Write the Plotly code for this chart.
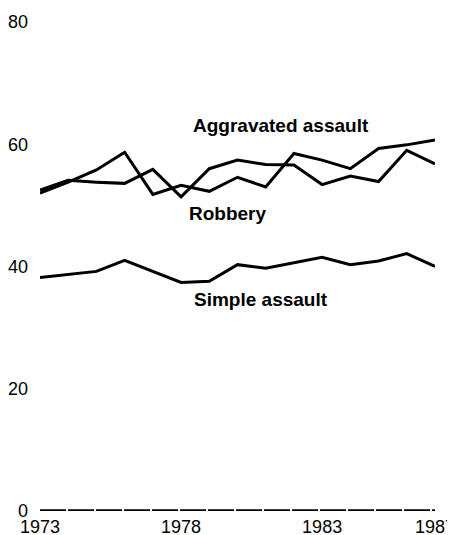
import plotly.graph_objects as go

years = list(range(1973, 1988))
aggravated_assault = [52.0, 53.8, 55.8, 58.7, 51.8, 53.3, 52.3, 54.6, 53.0, 58.5, 57.4, 56.0, 59.3, 59.9, 60.7]
robbery = [52.5, 54.1, 53.8, 53.6, 55.9, 51.4, 56.0, 57.4, 56.7, 56.6, 53.4, 54.8, 53.9, 59.0, 56.8]
simple_assault = [38.2, 38.7, 39.2, 41.0, 39.2, 37.4, 37.6, 40.3, 39.7, 40.6, 41.5, 40.3, 40.9, 42.1, 40.0]
baseline = [0] * len(years)

x_tick_vals = [1973, 1978, 1983, 1987]
x_tick_text = ["1973", "1978", "1983", "1987"]
y_tick_vals = [0, 20, 40, 60, 80]

FONT = "Liberation Sans, Arial, sans-serif"

fig = go.Figure()
for name, vals in [("Aggravated assault", aggravated_assault),
                   ("Robbery", robbery),
                   ("Simple assault", simple_assault)]:
    fig.add_trace(go.Scatter(x=years, y=vals, mode="lines", name=name,
                             line=dict(color="black", width=3),
                             cliponaxis=False))

fig.add_trace(go.Scatter(x=years, y=baseline, mode="lines", name="0",
                         line=dict(color="black", width=3.5, dash="26px,2px"),
                         cliponaxis=False))

ann_style = dict(showarrow=False, font=dict(family=FONT, size=19, color="black", weight="bold"),
                 xref="x", yref="y")
fig.add_annotation(text="Aggravated assault", x=1981.55, y=63.1, **ann_style)
fig.add_annotation(text="Robbery", x=1979.67, y=48.7, **ann_style)
fig.add_annotation(text="Simple assault", x=1980.84, y=34.6, **ann_style)

# page body has a small default margin, so the figure is sized to fill the rest
fig.update_layout(
    width=447, height=527,
    margin=dict(l=32, r=20, t=14, b=24, autoexpand=False),
    paper_bgcolor="white", plot_bgcolor="white",
    showlegend=False,
    font=dict(family=FONT, size=18, color="black"),
)
fig.update_xaxes(range=[1973, 1987.001], tickvals=x_tick_vals, ticktext=x_tick_text,
                 showgrid=False, zeroline=False, showline=False, ticks="",
                 ticklabelstandoff=3, automargin=False, ticklabeloverflow="allow")
fig.update_yaxes(range=[0, 80], tickvals=y_tick_vals,
                 showgrid=False, zeroline=False, showline=False, ticks="",
                 ticklabelstandoff=11, automargin=False)

fig.write_html("out.html")
